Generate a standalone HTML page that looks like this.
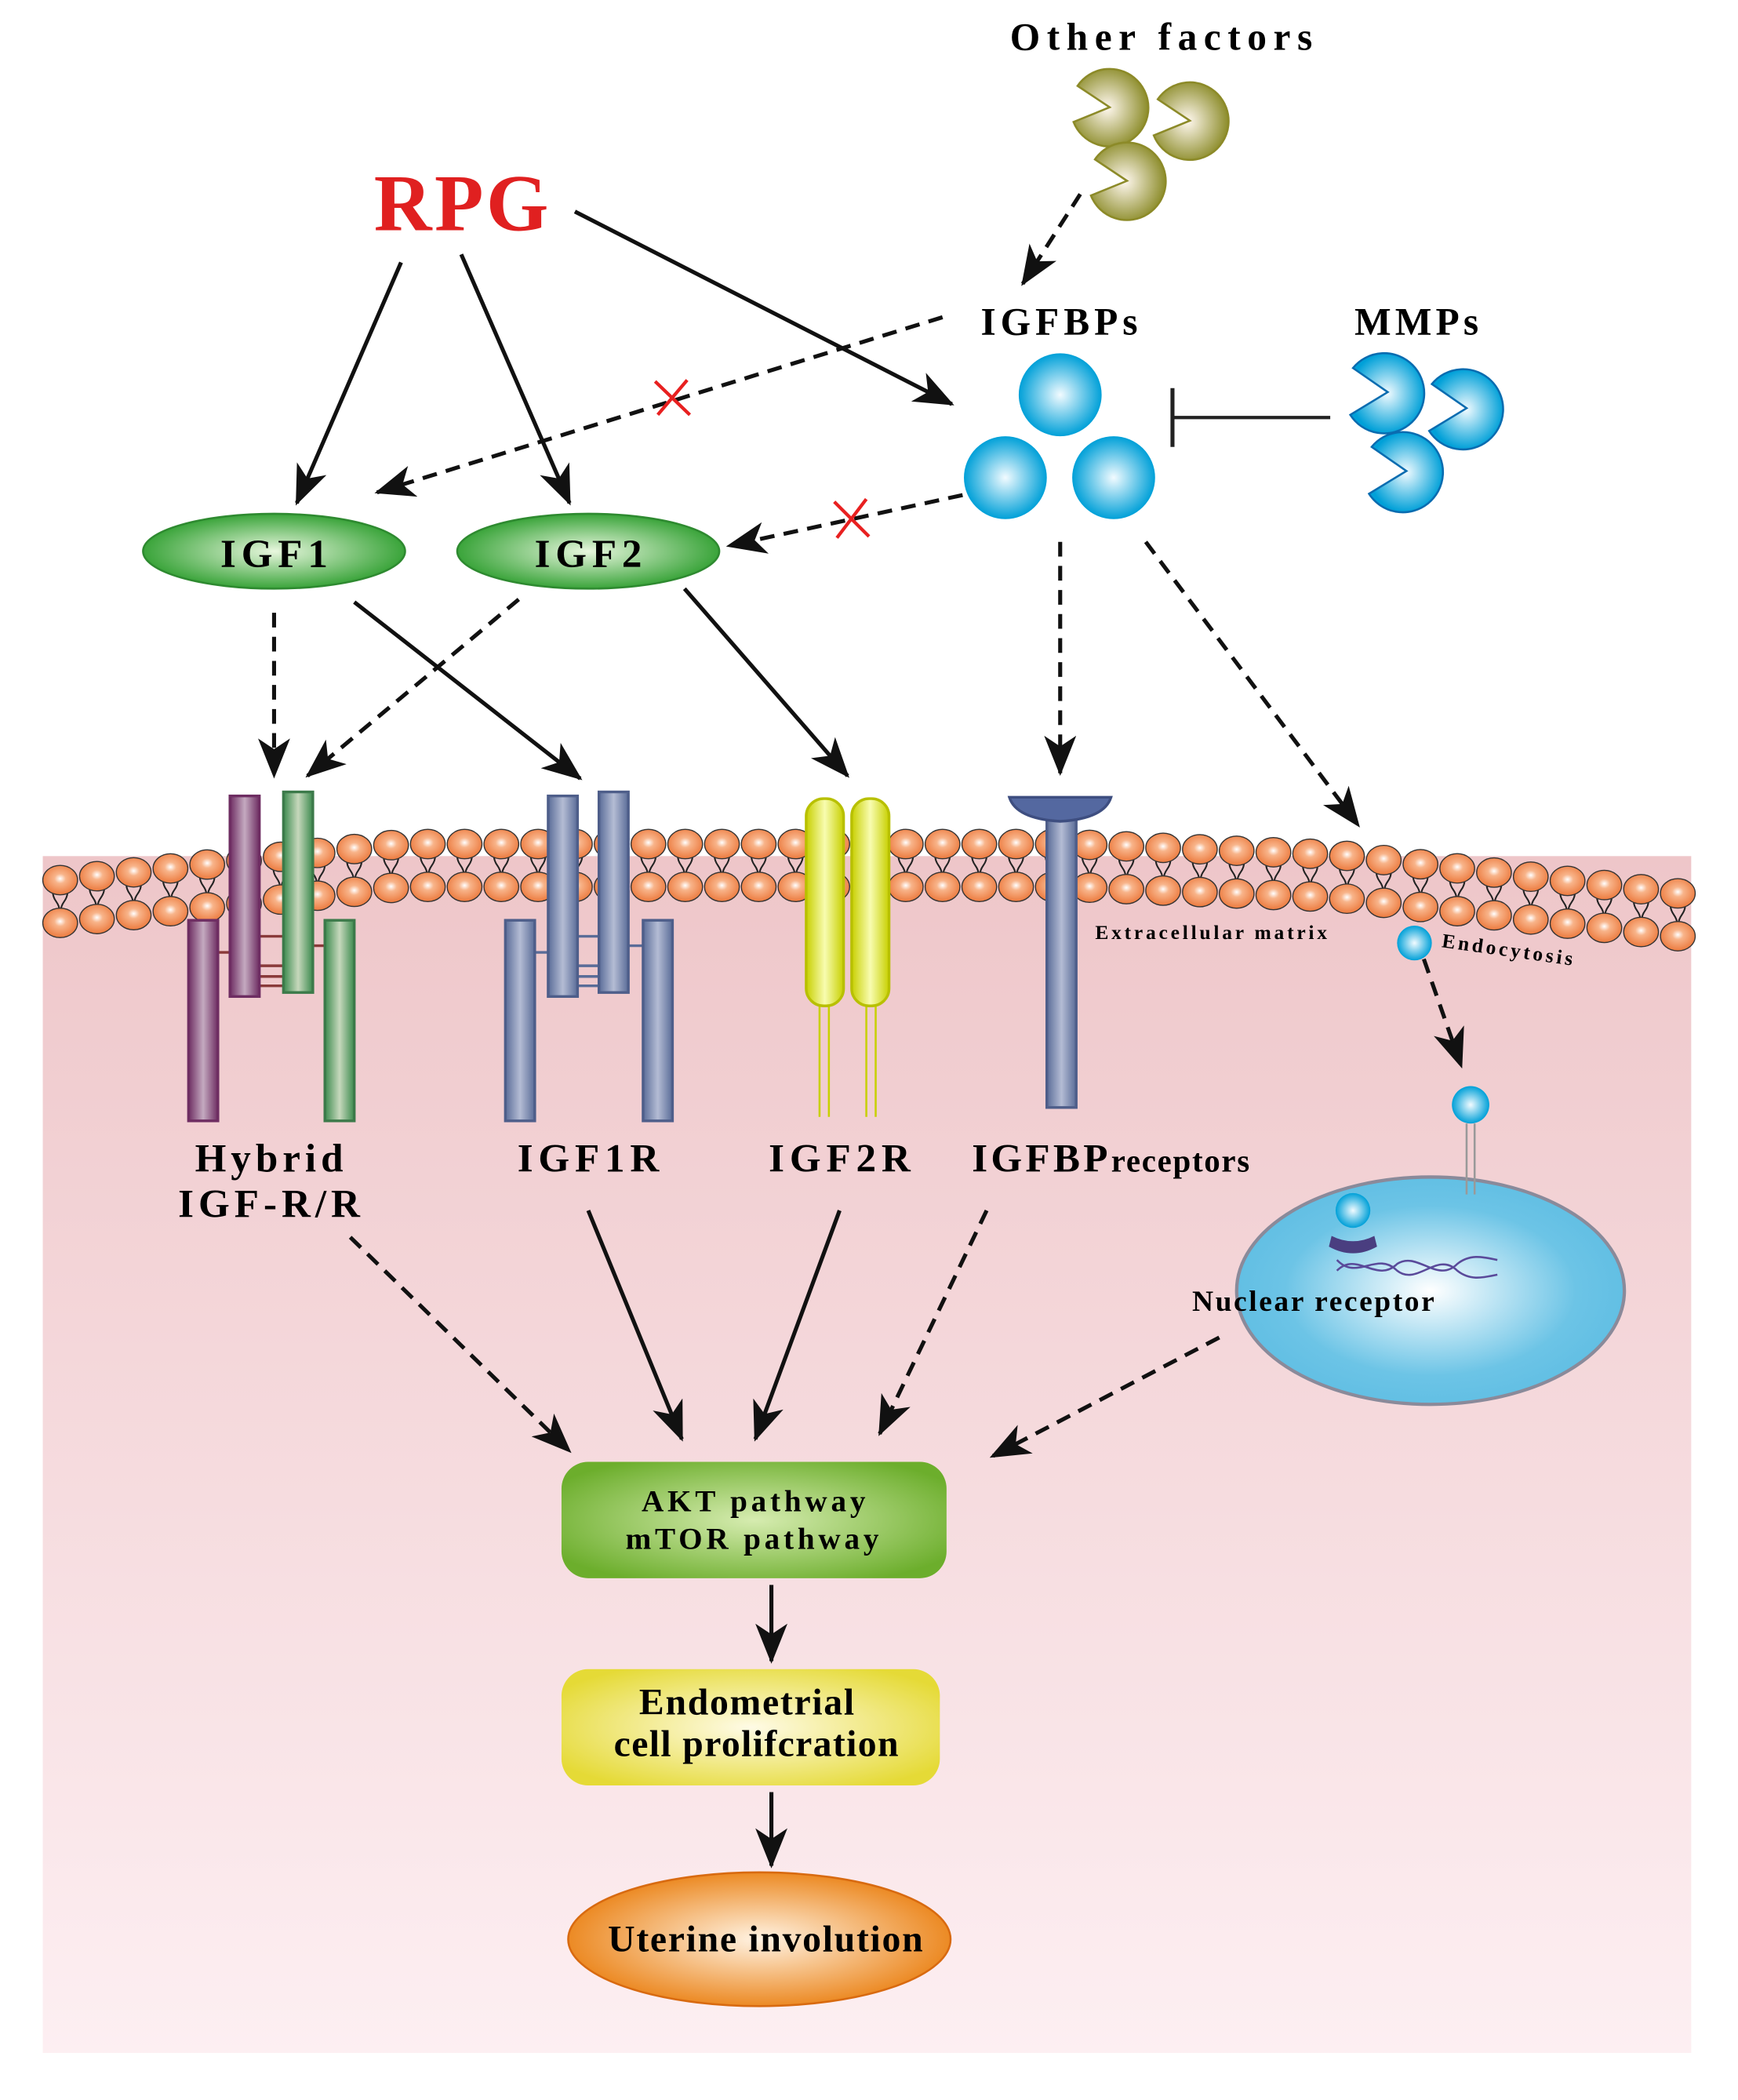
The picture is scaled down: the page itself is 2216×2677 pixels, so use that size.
<!DOCTYPE html>
<html><head><meta charset="utf-8">
<style>html,body{margin:0;padding:0;background:#fff}svg{display:block}</style>
</head><body>
<svg id="s" width="2216" height="2677" viewBox="0 0 1300 1570" xmlns="http://www.w3.org/2000/svg" font-family="Liberation Serif, serif" font-weight="bold">
<defs>
<linearGradient id="pink" x1="0" y1="0" x2="0" y2="1"><stop offset="0" stop-color="#eec6c9"/><stop offset="1" stop-color="#fdeff2"/></linearGradient>
<radialGradient id="blue" cx="0.5" cy="0.5" r="0.5"><stop offset="0" stop-color="#f2fbff"/><stop offset="1" stop-color="#00a0d8"/></radialGradient>
<radialGradient id="olive" cx="0.45" cy="0.5" r="0.55"><stop offset="0" stop-color="#fff8ef"/><stop offset="1" stop-color="#8c8c2a"/></radialGradient>
<radialGradient id="head" cx="0.5" cy="0.45" r="0.55"><stop offset="0" stop-color="#fff"/><stop offset="0.3" stop-color="#f8b48a"/><stop offset="1" stop-color="#ec7a3e"/></radialGradient>
<radialGradient id="nuc" cx="0.5" cy="0.5" r="0.5"><stop offset="0" stop-color="#ffffff"/><stop offset="0.75" stop-color="#6cc4e6"/><stop offset="1" stop-color="#62bfe4"/></radialGradient>
<radialGradient id="igf" cx="0.5" cy="0.5" r="0.5"><stop offset="0" stop-color="#e8f7de"/><stop offset="1" stop-color="#3aa43a"/></radialGradient>
<radialGradient id="akt" cx="0.5" cy="0.5" r="0.6"><stop offset="0" stop-color="#d6ecb0"/><stop offset="1" stop-color="#6cae2c"/></radialGradient>
<radialGradient id="endo" cx="0.5" cy="0.5" r="0.6"><stop offset="0" stop-color="#fffbe6"/><stop offset="1" stop-color="#e5da36"/></radialGradient>
<radialGradient id="ut" cx="0.5" cy="0.5" r="0.5"><stop offset="0" stop-color="#fff3e3"/><stop offset="1" stop-color="#ec8a24"/></radialGradient>
<linearGradient id="purp" x1="0" x2="1"><stop offset="0" stop-color="#6e2d62"/><stop offset="0.5" stop-color="#c4aac0"/><stop offset="1" stop-color="#6e2d62"/></linearGradient>
<linearGradient id="grn" x1="0" x2="1"><stop offset="0" stop-color="#3c8a4e"/><stop offset="0.5" stop-color="#c6d8bc"/><stop offset="1" stop-color="#3c8a4e"/></linearGradient>
<linearGradient id="bl" x1="0" x2="1"><stop offset="0" stop-color="#5a6c98"/><stop offset="0.5" stop-color="#b4bcd4"/><stop offset="1" stop-color="#5a6c98"/></linearGradient>
<linearGradient id="yel" x1="0" x2="1"><stop offset="0" stop-color="#c8d000"/><stop offset="0.5" stop-color="#f8fcb0"/><stop offset="1" stop-color="#c8d000"/></linearGradient>
<marker id="ah" viewBox="0 0 30 24" refX="28" refY="12" markerWidth="30" markerHeight="24" markerUnits="userSpaceOnUse" orient="auto"><path d="M0,0 L30,12 L0,24 L8,12 Z" fill="#111"/></marker>
</defs>
<rect x="32" y="640" width="1233" height="895" fill="url(#pink)"/>
<g id="mem"></g>

<text x="871" y="37" font-size="29" text-anchor="middle" letter-spacing="5">Other factors</text>
<g fill="url(#olive)" stroke="#8c8a28" stroke-width="1.5">
<path d="M835,80 L811,64 A29,29 0 1 1 808,91 Z" transform="translate(-5,0)"/>
<path d="M890,90 L866,74 A29,29 0 1 1 863,101 Z"/>
<path d="M843,135 L819,119 A29,29 0 1 1 816,146 Z"/>
</g>
<text x="1061" y="250" font-size="29" text-anchor="middle" letter-spacing="3">MMPs</text>
<g fill="url(#blue)" stroke="#0a6cb0" stroke-width="1.5">
<path d="M1038,293 L1012,275 A30,30 0 1 1 1010,310 Z"/>
<path d="M1097,305 L1071,287 A30,30 0 1 1 1069,322 Z"/>
<path d="M1052,352 L1026,334 A30,30 0 1 1 1024,369 Z"/>
</g>
<line x1="995" y1="312" x2="877" y2="312" stroke="#222" stroke-width="2.5"/>
<line x1="877" y1="290" x2="877" y2="334" stroke="#222" stroke-width="3"/>

<text x="794" y="250" font-size="29" text-anchor="middle" letter-spacing="3.5">IGFBPs</text>
<g fill="url(#blue)"><circle cx="793" cy="295" r="31"/><circle cx="752" cy="357" r="31"/><circle cx="833" cy="357" r="31"/></g>

<text x="346" y="172" font-size="60" fill="#e02020" text-anchor="middle" letter-spacing="2">RPG</text>

<ellipse cx="205" cy="412" rx="98" ry="28" fill="url(#igf)" stroke="#2e8a30" stroke-width="1.5"/>
<text x="207" y="424" font-size="30" text-anchor="middle" letter-spacing="4">IGF1</text>
<ellipse cx="440" cy="412" rx="98" ry="28" fill="url(#igf)" stroke="#2e8a30" stroke-width="1.5"/>
<text x="442" y="424" font-size="30" text-anchor="middle" letter-spacing="4">IGF2</text>

<g stroke="#111" stroke-width="3" fill="none" marker-end="url(#ah)">
<line x1="300" y1="196" x2="222" y2="376"/>
<line x1="345" y1="190" x2="426" y2="376"/>
<line x1="430" y1="158" x2="712" y2="302"/>
<line x1="265" y1="450" x2="434" y2="582"/>
<line x1="512" y1="440" x2="634" y2="580"/>
<line x1="440" y1="905" x2="510" y2="1076"/>
<line x1="628" y1="905" x2="565" y2="1076"/>
<line x1="577" y1="1185" x2="577" y2="1242"/>
<line x1="577" y1="1340" x2="577" y2="1395"/>
</g>
<g stroke="#111" stroke-width="3" fill="none" stroke-dasharray="11,7" marker-end="url(#ah)">
<line x1="808" y1="145" x2="765" y2="212"/>
<line x1="705" y1="237" x2="282" y2="368"/>
<line x1="720" y1="370" x2="545" y2="408"/>
<line x1="205" y1="458" x2="205" y2="580"/>
<line x1="388" y1="448" x2="230" y2="580"/>
<line x1="793" y1="405" x2="793" y2="578"/>
<line x1="857" y1="405" x2="1016" y2="617"/>
<line x1="1065" y1="717" x2="1093" y2="797"/>
<line x1="262" y1="925" x2="426" y2="1085"/>
<line x1="738" y1="905" x2="658" y2="1072"/>
<line x1="912" y1="1000" x2="742" y2="1089"/>
</g>
<g stroke="#e82020" stroke-width="2.5"><line x1="490" y1="285" x2="516" y2="310"/><line x1="514" y1="284" x2="492" y2="310"/>
<line x1="624" y1="375" x2="650" y2="401"/><line x1="648" y1="373" x2="626" y2="402"/></g>

<g stroke-width="2">
<g stroke="#8a3a3a" stroke-width="2"><line x1="194" y1="700" x2="212" y2="700"/><line x1="194" y1="722" x2="212" y2="722"/><line x1="194" y1="730" x2="212" y2="730"/><line x1="194" y1="737" x2="212" y2="737"/><line x1="163" y1="712" x2="172" y2="712"/><line x1="234" y1="707" x2="243" y2="707"/></g>
<rect x="172" y="595" width="22" height="150" fill="url(#purp)" stroke="#6e2d62"/>
<rect x="212" y="592" width="22" height="150" fill="url(#grn)" stroke="#3c7a4a"/>
<rect x="141" y="688" width="22" height="150" fill="url(#purp)" stroke="#6e2d62"/>
<rect x="243" y="688" width="22" height="150" fill="url(#grn)" stroke="#3c7a4a"/>
<g stroke="#5a6c98"><line x1="432" y1="700" x2="448" y2="700"/><line x1="432" y1="722" x2="448" y2="722"/><line x1="432" y1="730" x2="448" y2="730"/><line x1="432" y1="737" x2="448" y2="737"/><line x1="400" y1="712" x2="410" y2="712"/><line x1="470" y1="707" x2="481" y2="707"/></g>
<rect x="410" y="595" width="22" height="150" fill="url(#bl)" stroke="#4e5e8a"/>
<rect x="448" y="592" width="22" height="150" fill="url(#bl)" stroke="#4e5e8a"/>
<rect x="378" y="688" width="22" height="150" fill="url(#bl)" stroke="#4e5e8a"/>
<rect x="481" y="688" width="22" height="150" fill="url(#bl)" stroke="#4e5e8a"/>
<g stroke="#c8d000" stroke-width="1.5"><line x1="613" y1="750" x2="613" y2="835"/><line x1="620" y1="750" x2="620" y2="835"/><line x1="648" y1="750" x2="648" y2="835"/><line x1="655" y1="750" x2="655" y2="835"/></g>
<rect x="603" y="597" width="28" height="155" rx="13" fill="url(#yel)" stroke="#b8c000"/>
<rect x="637" y="597" width="28" height="155" rx="13" fill="url(#yel)" stroke="#b8c000"/>
<rect x="783" y="612" width="22" height="216" fill="url(#bl)" stroke="#4e5e8a"/>
<path d="M755,596 L831,596 Q826,612 793,614 Q760,612 755,596 Z" fill="#5468a0" stroke="#3e4e80"/>
</g>
<text x="907" y="702" font-size="15" text-anchor="middle" letter-spacing="2.2">Extracellular matrix</text>
<text x="1078" y="708" font-size="15" transform="rotate(8 1078 708)" letter-spacing="2.2">Endocytosis</text>
<circle cx="1058" cy="705" r="13" fill="url(#blue)"/>

<g font-size="30" text-anchor="middle" letter-spacing="3.5">
<text x="203" y="876">Hybrid</text><text x="203" y="910">IGF-R/R</text>
<text x="442" y="876" letter-spacing="4">IGF1R</text><text x="630" y="876" letter-spacing="4">IGF2R</text>
<text x="727" y="876" text-anchor="start" letter-spacing="2.5">IGFBP<tspan font-size="24" letter-spacing="1">receptors</tspan></text>
</g>

<ellipse cx="1070" cy="965" rx="145" ry="85" fill="url(#nuc)" stroke="#8a8a9a" stroke-width="2.5"/>
<line x1="1097" y1="840" x2="1097" y2="893" stroke="#999" stroke-width="1.5"/><line x1="1103" y1="840" x2="1103" y2="893" stroke="#999" stroke-width="1.5"/>
<circle cx="1100" cy="826" r="14" fill="url(#blue)"/>
<circle cx="1012" cy="905" r="13" fill="url(#blue)"/>
<path d="M996,924 Q1012,932 1028,924 L1030,932 Q1012,942 994,932 Z" fill="#4a3e80"/>
<path d="M1000,950 C1015,935 1030,960 1045,945 C1060,935 1075,960 1090,945 C1100,937 1110,940 1120,942 M1000,942 C1015,958 1030,935 1045,950 C1060,962 1075,935 1090,950 C1100,958 1110,955 1120,953" stroke="#5a4a9a" stroke-width="1.5" fill="none"/>
<text x="983" y="980" font-size="22" text-anchor="middle" letter-spacing="1.5">Nuclear receptor</text>

<rect x="420" y="1093" width="288" height="87" rx="20" fill="url(#akt)"/>
<text x="565" y="1130" font-size="23" text-anchor="middle" letter-spacing="2.8">AKT pathway</text>
<text x="564" y="1158" font-size="23" text-anchor="middle" letter-spacing="2.8">mTOR pathway</text>
<rect x="420" y="1248" width="283" height="87" rx="20" fill="url(#endo)"/>
<text x="559" y="1282" font-size="28" text-anchor="middle" letter-spacing="1">Endometrial</text>
<text x="566" y="1313" font-size="28" text-anchor="middle" letter-spacing="0.8">cell prolifcration</text>
<ellipse cx="568" cy="1450" rx="143" ry="50" fill="url(#ut)" stroke="#d86a10" stroke-width="1.5"/>
<text x="573" y="1459" font-size="28" text-anchor="middle" letter-spacing="1">Uterine involution</text>
</svg>
<script>
(function(){
var g=document.getElementById('mem'),h='';
function cy(x){var pts=[[35,675],[300,647],[800,647],[1000,655],[1265,685]];
for(var i=0;i<pts.length-1;i++){if(x<=pts[i+1][0]){var t=(x-pts[i][0])/(pts[i+1][0]-pts[i][0]);return pts[i][1]+t*(pts[i+1][1]-pts[i][1]);}}return 685;}
for(var x=45;x<=1258;x+=27.5){var c=cy(x);
h+='<path d="M'+(x-3)+','+(c-14)+' q-5,7 0,14 q5,7 0,14 M'+(x+3)+','+(c-14)+' q5,7 0,14 q-5,7 0,14" stroke="#222" stroke-width="1.2" fill="none"/>';}
for(var x=45;x<=1258;x+=27.5){var c=cy(x);
h+='<ellipse cx="'+x+'" cy="'+(c-16)+'" rx="13" ry="11" fill="url(#head)" stroke="#333" stroke-width="0.8"/>';
h+='<ellipse cx="'+x+'" cy="'+(c+16)+'" rx="13" ry="11" fill="url(#head)" stroke="#333" stroke-width="0.8"/>';}
g.innerHTML=h;
})();
</script>
</body></html>
